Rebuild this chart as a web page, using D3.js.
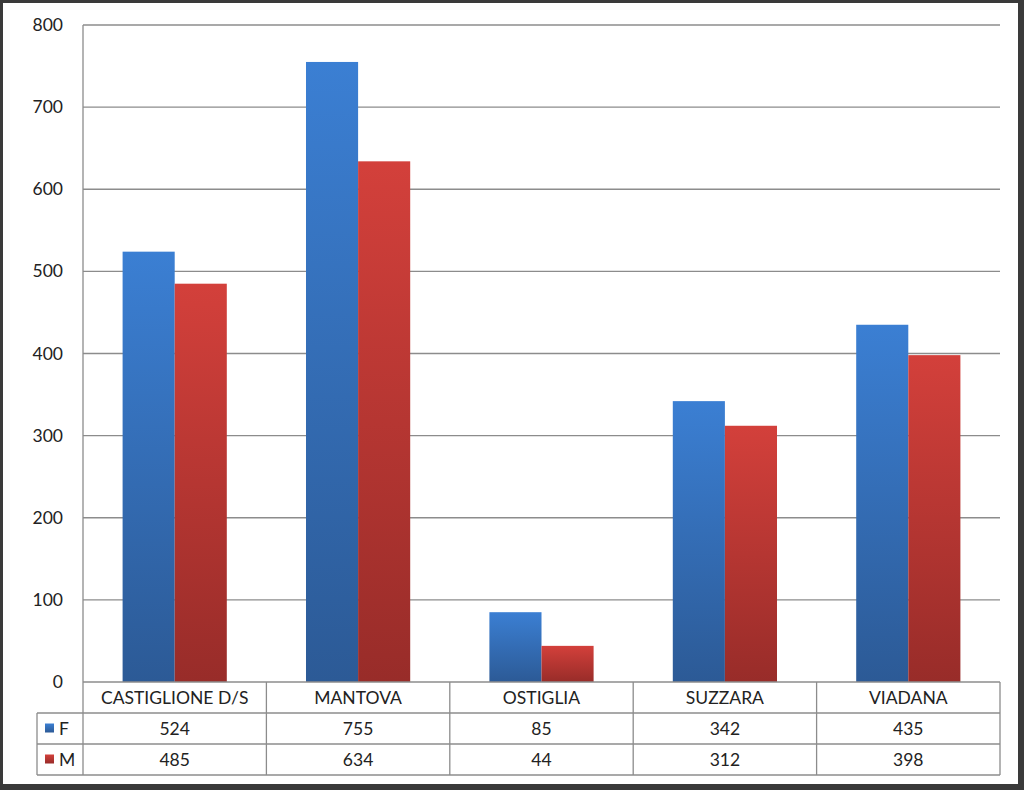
<!DOCTYPE html>
<html><head><meta charset="utf-8">
<script src="https://cdn.jsdelivr.net/npm/d3@7"></script>
<style>body{margin:0;background:#fff}svg{display:block}</style>
</head><body>
<script>
const categories = ["CASTIGLIONE D/S","MANTOVA","OSTIGLIA","SUZZARA","VIADANA"];
const seriesNames = ["F","M"];
const valuesF = [524,755,85,342,435];
const valuesM = [485,634,44,312,398];
const yTicks = [0,100,200,300,400,500,600,700,800];

const W=1024,H=790;
const svg=d3.select("body").append("svg").attr("width",W).attr("height",H);
const font="Lato, 'Open Sans', sans-serif";

// frame
svg.append("rect").attr("x",0).attr("y",0).attr("width",W).attr("height",H).attr("fill","#3a3a3a");
svg.append("rect").attr("x",3).attr("y",3).attr("width",W-9).attr("height",H-9).attr("fill","#fff");

const L=83,R=1000,T=25,B=682;
const x=d3.scaleBand().domain(categories).range([L,R]).paddingInner(0).paddingOuter(0);
const xs=d3.scaleBand().domain(seriesNames).range([0,x.bandwidth()]).paddingOuter(0.76).paddingInner(0);
const y=d3.scaleLinear().domain([0,800]).range([B,T]);

const defs=svg.append("defs");
const gF=defs.append("linearGradient").attr("id","gF").attr("x1",0).attr("y1",0).attr("x2",0).attr("y2",1);
gF.append("stop").attr("offset","0%").attr("stop-color","#3b7fd3");
gF.append("stop").attr("offset","100%").attr("stop-color","#2c5a96");
const gM=defs.append("linearGradient").attr("id","gM").attr("x1",0).attr("y1",0).attr("x2",0).attr("y2",1);
gM.append("stop").attr("offset","0%").attr("stop-color","#d3403b");
gM.append("stop").attr("offset","100%").attr("stop-color","#982c29");

// gridlines
svg.append("g").selectAll("line").data(yTicks.filter(d=>d>0)).join("line")
 .attr("x1",L).attr("x2",R).attr("y1",d=>y(d)).attr("y2",d=>y(d))
 .attr("stroke","#8c8c8c").attr("stroke-width",1.3);
svg.append("line").attr("x1",L).attr("x2",L).attr("y1",T).attr("y2",B).attr("stroke","#8c8c8c").attr("stroke-width",1.3);

// y axis labels
const yAxis=d3.axisLeft(y).tickValues(yTicks).tickSize(0).tickPadding(20);
const ya=svg.append("g").attr("transform",`translate(${L},0)`).call(yAxis);
ya.select(".domain").remove();
ya.selectAll("text").attr("font-family",font).attr("font-size",17.5).attr("fill","#222");

// bars
const series=[{name:"F",vals:valuesF,fill:"url(#gF)"},{name:"M",vals:valuesM,fill:"url(#gM)"}];
series.forEach(s=>{
  svg.append("g").selectAll("rect").data(categories).join("rect")
   .attr("x",(c)=>x(c)+xs(s.name)).attr("width",xs.bandwidth())
   .attr("y",(c,i)=>y(s.vals[i])).attr("height",(c,i)=>B-y(s.vals[i]))
   .attr("fill",s.fill);
});

// data table
const rowH=31;
const tb=svg.append("g");
const tl="#8c8c8c";
tb.append("line").attr("x1",L).attr("x2",R).attr("y1",B).attr("y2",B).attr("stroke",tl).attr("stroke-width",1.3);
[1,2,3].forEach(k=>{
  tb.append("line").attr("x1",37).attr("x2",R).attr("y1",B+k*rowH).attr("y2",B+k*rowH).attr("stroke",tl).attr("stroke-width",1.3);
});
tb.append("line").attr("x1",37).attr("x2",37).attr("y1",B+rowH).attr("y2",B+3*rowH).attr("stroke",tl).attr("stroke-width",1.3);
const bounds=categories.map(c=>x(c)).concat([R]);
tb.selectAll("line.v").data(bounds).join("line").attr("class","v")
 .attr("x1",d=>d).attr("x2",d=>d).attr("y1",B).attr("y2",B+3*rowH).attr("stroke",tl).attr("stroke-width",1.3);

tb.selectAll("text.cat").data(categories).join("text").attr("class","cat")
 .attr("x",c=>x(c)+x.bandwidth()/2).attr("y",B+rowH/2+6).attr("text-anchor","middle")
 .attr("font-family",font).attr("font-size",17.5).attr("fill","#222").text(c=>c);
series.forEach((s,si)=>{
  const yy=B+(si+1)*rowH+rowH/2+6;
  tb.append("g").selectAll("text").data(categories).join("text")
   .attr("x",c=>x(c)+x.bandwidth()/2).attr("y",yy).attr("text-anchor","middle")
   .attr("font-family",font).attr("font-size",17.5).attr("fill","#222").text((c,i)=>s.vals[i]);
  tb.append("rect").attr("x",45).attr("y",yy-11).attr("width",9).attr("height",9).attr("fill",s.fill);
  tb.append("text").attr("x",59).attr("y",yy).attr("font-family",font).attr("font-size",17.5).attr("fill","#222").text(s.name);
});
</script>
</body></html>
